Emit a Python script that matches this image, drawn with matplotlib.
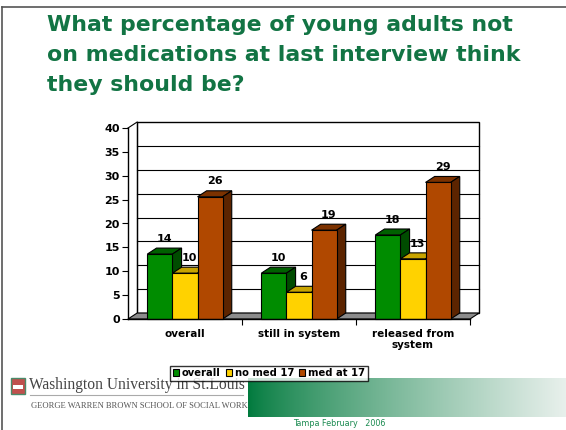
import matplotlib.pyplot as plt
import numpy as np
from matplotlib.patches import Polygon, Rectangle, Patch
from matplotlib.lines import Line2D

# data
categories = ['overall', 'still in system', 'released from\nsystem']
series = ['overall', 'no med 17', 'med at 17']
overall = [13.6, 9.6, 17.6]
no_med_17 = [9.6, 5.6, 12.6]
med_at_17 = [25.6, 18.6, 28.6]
yticks = [0, 5, 10, 15, 20, 25, 30, 35, 40]

title = 'What percentage of young adults not\non medications at last interview think\nthey should be?'

# face / top / side colours for the fake 3d bars
face = ['#008c00', '#ffd200', '#b04800']
top = ['#006000', '#c8a400', '#7c3200']
side = ['#004c00', '#a88a00', '#5c2400']

W, H = 566, 430
fig = plt.figure(figsize=(W / 100, H / 100), dpi=100)

def fx(px):
    return px / W

def fy(py):
    return 1 - py / H

# slide frame
fig.add_artist(Line2D([fx(2), 1], [fy(7), fy(7)], color='#555555', lw=1.2))
fig.add_artist(Line2D([fx(2), fx(2)], [fy(7), 0], color='#555555', lw=1.2))

fig.text(fx(47), fy(15), title, fontsize=15.8, fontweight='bold', color='#127444',
         va='top', ha='left', linespacing=1.62)

ax = fig.add_axes([fx(128), fy(319), fx(342), 191 / H])
ax.set_xlim(0, 3)
ax.set_ylim(0, 40)
dx, dy = 0.08, 1.25
w = 0.22

# back wall + floor
ax.add_patch(Polygon([(dx, dy), (3 + dx, dy), (3 + dx, 40 + dy), (dx, 40 + dy)],
                     closed=True, fc='white', ec='black', lw=1, clip_on=False, zorder=0))
for y in yticks[1:-1]:
    ax.plot([dx, 3 + dx], [y + dy, y + dy], color='black', lw=0.8, clip_on=False, zorder=1)
ax.plot([0, dx], [40, 40 + dy], color='black', lw=0.8, clip_on=False, zorder=1)
ax.plot([dx, dx], [dy, 40 + dy], color='black', lw=0.8, clip_on=False, zorder=1)
ax.add_patch(Polygon([(0, 0), (3, 0), (3 + dx, dy), (dx, dy)], closed=True,
                     fc='#8c8c8c', ec='black', lw=0.8, clip_on=False, zorder=2))

values = [overall, no_med_17, med_at_17]
z = 3
for i in range(len(categories)):
    c = i + 0.5
    for j, vals in enumerate(values):
        v = vals[i]
        x0 = c - 1.5 * w + j * w
        x1 = x0 + w
        ax.add_patch(Polygon([(x0, v), (x1, v), (x1 + dx, v + dy), (x0 + dx, v + dy)],
                             closed=True, fc=top[j], ec='black', lw=0.8, clip_on=False, zorder=z))
        ax.add_patch(Polygon([(x1, 0), (x1 + dx, dy), (x1 + dx, v + dy), (x1, v)],
                             closed=True, fc=side[j], ec='black', lw=0.8, clip_on=False, zorder=z))
        ax.add_patch(Rectangle((x0, 0), w, v, fc=face[j], ec='black', lw=0.8,
                               clip_on=False, zorder=z + 1))
        ax.text((x0 + x1) / 2 + dx / 2, v + dy + 0.9, f'{v:.0f}', ha='center', va='bottom',
                fontsize=8, fontweight='bold', zorder=20)
        z += 2

for s in ['top', 'right']:
    ax.spines[s].set_visible(False)
ax.spines['left'].set_linewidth(1)
ax.spines['bottom'].set_linewidth(1)
ax.spines['left'].set_zorder(30)
ax.spines['bottom'].set_zorder(30)
ax.patch.set_visible(False)
ax.set_yticks(yticks)
ax.set_yticklabels([str(t) for t in yticks], fontsize=8, fontweight='bold')
ax.set_xticks([1, 2, 3])
ax.set_xticklabels([])
ax.set_xticks([0.5, 1.5, 2.5], minor=True)
ax.set_xticklabels(categories, minor=True, fontsize=7.5, fontweight='bold')
ax.tick_params(axis='x', which='minor', length=0, pad=7)
ax.tick_params(axis='x', which='major', length=4, direction='out')
ax.tick_params(axis='y', length=4, direction='out', pad=2)

handles = [Patch(fc=face[j], ec='black', lw=0.8) for j in range(3)]
leg = fig.legend(handles, series, loc='center', bbox_to_anchor=(fx(269), fy(373)), ncol=3,
                 prop={'weight': 'bold', 'size': 7.2}, frameon=True, fancybox=False,
                 handlelength=0.6, handleheight=0.6, handletextpad=0.3, columnspacing=0.5,
                 borderpad=0.25, borderaxespad=0)
leg.get_frame().set_edgecolor('black')
leg.get_frame().set_linewidth(1)
leg.set_zorder(50)

# green gradient band
gax = fig.add_axes([fx(248), fy(417), fx(318), 39 / H])
grad = np.linspace(0, 1, 256)
c0 = np.array([0, 122, 61]) / 255
c1 = np.array([232, 240, 236]) / 255
img = c0[None, :] * (1 - grad[:, None] ** 0.8) + c1[None, :] * grad[:, None] ** 0.8
gax.imshow(img[None, :, :], aspect='auto', extent=[0, 1, 0, 1])
gax.axis('off')
gax.set_zorder(-1)

# logo block
fig.add_artist(Rectangle((fx(11), fy(394)), fx(14), 16 / H, fc='#c0504d', ec='#4a8a6a', lw=1))
fig.add_artist(Rectangle((fx(13), fy(389)), fx(10), 4 / H, fc='white', ec='none'))
fig.text(fx(29), fy(389), 'Washington University in St.Louis', family='Liberation Serif',
         fontsize=11.2, color='#444444', va='baseline', ha='left')
fig.add_artist(Line2D([fx(30), fx(243)], [fy(395), fy(395)], color='#aaaaaa', lw=0.8))
fig.text(fx(31), fy(408), 'GEORGE WARREN BROWN SCHOOL OF SOCIAL WORK', family='Liberation Serif',
         fontsize=6.1, color='#555555', va='baseline', ha='left')
fig.text(fx(339), fy(424), 'Tampa February   2006', fontsize=5.8, color='#1a8a50',
         ha='center', va='center')

fig.savefig('out.png', dpi=100)
